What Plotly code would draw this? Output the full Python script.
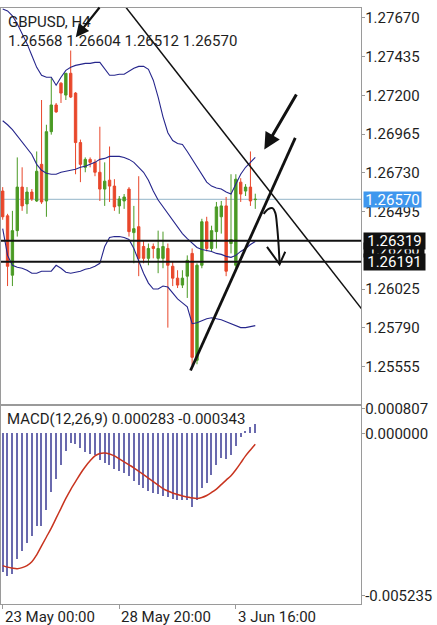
import plotly.graph_objects as go

# ---------------- data ----------------
bar_idx = list(range(53))

opens = [1.26620, 1.26470, 1.26110, 1.26380, 1.26644, 1.26542, 1.26614, 1.26560, 1.26782, 1.26560,
         1.26980, 1.27142, 1.27274, 1.27202, 1.27334, 1.27214, 1.26914, 1.26764, 1.26812, 1.26794,
         1.26734, 1.26632, 1.26686, 1.26650, 1.26530, 1.26560, 1.26632, 1.26368, 1.26404, 1.26284,
         1.26212, 1.26284, 1.26212, 1.26212, 1.26272, 1.26164, 1.26092, 1.26050, 1.26104, 1.26242,
         1.25594, 1.26170, 1.26434, 1.26272, 1.26374, 1.26464, 1.26530, 1.26302, 1.26170, 1.26674,
         1.26620, 1.26644, 1.26568]
highs = [1.26644, 1.26482, 1.26500, 1.26824, 1.26764, 1.26644, 1.26632, 1.26860, 1.27172, 1.27022,
         1.27304, 1.27154, 1.27280, 1.27334, 1.27472, 1.27220, 1.26932, 1.26824, 1.26824, 1.26812,
         1.27010, 1.26794, 1.26890, 1.26692, 1.26590, 1.26602, 1.26644, 1.26530, 1.26710, 1.26320,
         1.26302, 1.26302, 1.26380, 1.26374, 1.26302, 1.26194, 1.26140, 1.26140, 1.26230, 1.26272,
         1.26182, 1.26452, 1.26464, 1.26410, 1.26554, 1.26560, 1.26584, 1.26722, 1.26722, 1.26698,
         1.26662, 1.26860, 1.26604]
lows = [1.26446, 1.26044, 1.26044, 1.26344, 1.26500, 1.26482, 1.26560, 1.26554, 1.26542, 1.26464,
        1.26962, 1.27094, 1.27154, 1.27172, 1.27184, 1.26722, 1.26674, 1.26734, 1.26764, 1.26710,
        1.26560, 1.26530, 1.26554, 1.26500, 1.26482, 1.26512, 1.26344, 1.26182, 1.26104, 1.26182,
        1.26170, 1.26212, 1.26122, 1.26152, 1.25792, 1.26044, 1.26032, 1.26032, 1.25972, 1.25564,
        1.25570, 1.26152, 1.26254, 1.26254, 1.26272, 1.26362, 1.26104, 1.26242, 1.26152, 1.26554,
        1.26590, 1.26530, 1.26512]
closes = [1.26464, 1.26164, 1.26380, 1.26644, 1.26530, 1.26614, 1.26572, 1.26740, 1.26554, 1.26980,
          1.27142, 1.27100, 1.27214, 1.27334, 1.27190, 1.26914, 1.26782, 1.26812, 1.26794, 1.26734,
          1.26632, 1.26680, 1.26650, 1.26524, 1.26572, 1.26584, 1.26374, 1.26392, 1.26212, 1.26212,
          1.26272, 1.26272, 1.26272, 1.26284, 1.26170, 1.26092, 1.26050, 1.26092, 1.26200, 1.25612,
          1.26170, 1.26434, 1.26272, 1.26380, 1.26524, 1.26530, 1.26134, 1.26326, 1.26692, 1.26602,
          1.26644, 1.26560, 1.26570]

bb_upper = [1.27724, 1.27712, 1.27682, 1.27634, 1.27574, 1.27514, 1.27442, 1.27370, 1.27322, 1.27310,
            1.27310, 1.27262, 1.27310, 1.27352, 1.27370, 1.27382, 1.27388, 1.27394, 1.27394, 1.27400,
            1.27400, 1.27358, 1.27322, 1.27322, 1.27328, 1.27328, 1.27346, 1.27364, 1.27376, 1.27376,
            1.27358, 1.27292, 1.27190, 1.27070, 1.26974, 1.26926, 1.26908, 1.26902, 1.26860, 1.26812,
            1.26764, 1.26722, 1.26674, 1.26650, 1.26638, 1.26632, 1.26614, 1.26602, 1.26662, 1.26722,
            1.26764, 1.26794, 1.26824]
bb_middle = [1.27046, 1.27022, 1.26992, 1.26956, 1.26920, 1.26884, 1.26842, 1.26782, 1.26746, 1.26728,
             1.26722, 1.26722, 1.26734, 1.26740, 1.26746, 1.26752, 1.26764, 1.26770, 1.26782, 1.26794,
             1.26812, 1.26818, 1.26830, 1.26830, 1.26830, 1.26824, 1.26812, 1.26794, 1.26764, 1.26734,
             1.26686, 1.26620, 1.26566, 1.26524, 1.26482, 1.26440, 1.26404, 1.26362, 1.26332, 1.26302,
             1.26278, 1.26266, 1.26260, 1.26254, 1.26242, 1.26236, 1.26224, 1.26218, 1.26230, 1.26254,
             1.26272, 1.26296, 1.26314]
bb_lower = [1.26392, 1.26230, 1.26170, 1.26158, 1.26152, 1.26140, 1.26122, 1.26122, 1.26134, 1.26134,
            1.26134, 1.26170, 1.26152, 1.26128, 1.26122, 1.26128, 1.26134, 1.26146, 1.26152, 1.26164,
            1.26182, 1.26284, 1.26338, 1.26344, 1.26344, 1.26338, 1.26326, 1.26272, 1.26194, 1.26122,
            1.26062, 1.26026, 1.26026, 1.26044, 1.26038, 1.26002, 1.25966, 1.25942, 1.25918, 1.25816,
            1.25822, 1.25834, 1.25846, 1.25852, 1.25846, 1.25840, 1.25828, 1.25816, 1.25804, 1.25792,
            1.25792, 1.25798, 1.25804]

macd_hist = [-0.004494, -0.004603, -0.004549, -0.004048, -0.003805, -0.003537, -0.003326, -0.003007, -0.003007, -0.002474,
             -0.001890, -0.001494, -0.001037, -0.000559, -0.000326, -0.000345, -0.000485, -0.000613, -0.000664, -0.000696,
             -0.000855, -0.000964, -0.001037, -0.001143, -0.001219, -0.001283, -0.001389, -0.001548, -0.001676, -0.001772,
             -0.001867, -0.001931, -0.001979, -0.002027, -0.002075, -0.002123, -0.002171, -0.002155, -0.002155, -0.002394,
             -0.002155, -0.001772, -0.001612, -0.001357, -0.001037, -0.000814, -0.000830, -0.000718, -0.000399, -0.000112,
             0.000080, 0.000192, 0.000283]
macd_signal = [-0.004261, -0.004309, -0.004341, -0.004357, -0.004325, -0.004261, -0.004134, -0.003910, -0.003623, -0.003336,
               -0.003048, -0.002729, -0.002410, -0.002091, -0.001803, -0.001548, -0.001293, -0.001069, -0.000878, -0.000718,
               -0.000638, -0.000622, -0.000654, -0.000718, -0.000814, -0.000910, -0.001005, -0.001101, -0.001213, -0.001325,
               -0.001436, -0.001548, -0.001660, -0.001772, -0.001851, -0.001915, -0.001963, -0.002011, -0.002043, -0.002075,
               -0.002091, -0.002059, -0.001995, -0.001899, -0.001788, -0.001644, -0.001500, -0.001357, -0.001165, -0.000942,
               -0.000718, -0.000527, -0.000343]

price_ticks = [1.27670, 1.27435, 1.27200, 1.26965, 1.26730, 1.26495, 1.26025, 1.25790, 1.25555]
macd_ticks = [0.000807, 0.0, -0.005235]
macd_tick_text = ["0.000807", "0.000000", "-0.005235"]
date_idx = [0, 24, 48]
date_labels = ["23 May 00:00", "28 May 20:00", "3 Jun 16:00"]

current_price = 1.26570
level_lines = [1.26319, 1.26191]
hidden_level = 1.26260

# hand-drawn objects (bar index, price)
desc_line_x = [24.3, 74.6]
desc_line_y = [1.27774, 1.25879]
up_line_x = [38.67, 60.23]
up_line_y = [1.25532, 1.26942]
arrow_r_head = (53.86, 1.26872)
arrow_r_tail = (60.64, 1.27214)
arrow_l_head = (15.05, 1.27552)
arrow_l_tail = (20.18, 1.27742)
curve_x = [53.72, 54.74, 55.56, 56.12, 56.47, 56.80, 57.00]
curve_y = [1.26482, 1.26512, 1.26516, 1.26488, 1.26412, 1.26292, 1.26182]
curve_head_x = [54.41, 57.00, 58.17]
curve_head_y = [1.26282, 1.26176, 1.26252]

# ---------------- style ----------------
W, H = 437, 625
GREEN = "#4a9a24"
RED = "#e8472b"
BAND = "#26268c"
HIST = "#6a6aae"
SIG = "#c8341f"
AXIS = "#9a9a9a"
TXT = "#1e1e1e"
FONT = "Roboto"

x_right = 361 / W
main_dom = [1 - 404 / H, 1 - 2 / H]
macd_dom = [1 - 605 / H, 1 - 404 / H]
x_range = [-0.35, 73.8]

fig = go.Figure()

fig.add_trace(go.Candlestick(
    x=bar_idx, open=opens, high=highs, low=lows, close=closes,
    increasing=dict(line=dict(color=GREEN, width=1), fillcolor=GREEN),
    decreasing=dict(line=dict(color=RED, width=1), fillcolor=RED),
    whiskerwidth=0, xaxis="x", yaxis="y", hoverinfo="skip"))

for band in (bb_upper, bb_middle, bb_lower):
    fig.add_trace(go.Scatter(x=bar_idx, y=band, mode="lines",
                             line=dict(color=BAND, width=1.1),
                             xaxis="x", yaxis="y", hoverinfo="skip"))

fig.add_trace(go.Scatter(x=desc_line_x, y=desc_line_y, mode="lines",
                         line=dict(color="#111111", width=1.5), xaxis="x", yaxis="y"))
fig.add_trace(go.Scatter(x=up_line_x, y=up_line_y, mode="lines",
                         line=dict(color="#111111", width=2.8), xaxis="x", yaxis="y"))
fig.add_trace(go.Scatter(x=curve_x, y=curve_y, mode="lines",
                         line=dict(color="#111111", width=2, shape="spline"), xaxis="x", yaxis="y"))
fig.add_trace(go.Scatter(x=curve_head_x, y=curve_head_y, mode="lines",
                         line=dict(color="#111111", width=2), xaxis="x", yaxis="y"))

# MACD
fig.add_trace(go.Bar(x=bar_idx, y=macd_hist, width=0.28, marker=dict(color=HIST, line=dict(width=0)),
                     xaxis="x2", yaxis="y2", hoverinfo="skip"))
fig.add_trace(go.Scatter(x=bar_idx, y=macd_signal, mode="lines",
                         line=dict(color=SIG, width=1.5, shape="spline"),
                         xaxis="x2", yaxis="y2", hoverinfo="skip"))

shapes = [dict(type="line", xref="x domain", x0=0, x1=1, yref="y", y0=current_price, y1=current_price,
               line=dict(color="#93b4c8", width=1), layer="below")]
for lv in level_lines:
    shapes.append(dict(type="line", xref="x domain", x0=0, x1=1, yref="y", y0=lv, y1=lv,
                       line=dict(color="#111111", width=2)))

ann = []
# price boxes on the axis
ann.append(dict(x=363 / W, xref="paper", xanchor="left", y=hidden_level, yref="y", yanchor="middle",
                text="1.26260", showarrow=False, bgcolor="#111111", borderpad=0, width=60, height=14,
                font=dict(family=FONT, size=14, color="white")))
ann.append(dict(x=363 / W, xref="paper", xanchor="left", y=current_price, yref="y", yanchor="middle",
                text=f"{current_price:.5f}", showarrow=False, bgcolor="#3f97ee", borderpad=0,
                width=57, height=15, font=dict(family=FONT, size=15, color="white")))
for lv in level_lines:
    ann.append(dict(x=363 / W, xref="paper", xanchor="left", y=lv, yref="y", yanchor="middle",
                    text=f"{lv:.5f}", showarrow=False, bgcolor="#111111", borderpad=0,
                    width=61, height=16, font=dict(family=FONT, size=15, color="white")))

# headers
ann.append(dict(x=5 / W, xref="paper", xanchor="left", y=1 - 16 / H, yref="paper", yanchor="middle",
                text="GBPUSD, H4", showarrow=False, font=dict(family=FONT, size=15, color=TXT)))
ann.append(dict(x=5 / W, xref="paper", xanchor="left", y=1 - 35 / H, yref="paper", yanchor="middle",
                text=f"{opens[-1]:.5f} {highs[-1]:.5f} {lows[-1]:.5f} {closes[-1]:.5f}",
                showarrow=False, font=dict(family=FONT, size=15, color=TXT)))
ann.append(dict(x=4 / W, xref="paper", xanchor="left", y=1 - 418 / H, yref="paper", yanchor="middle",
                text=f"MACD(12,26,9) {macd_hist[-1]:.6f} {macd_signal[-1]:.6f}",
                showarrow=False, font=dict(family=FONT, size=15, color=TXT)))

# date labels (left aligned at tick)
for xi, lab in zip(date_idx, date_labels):
    ann.append(dict(x=xi, xref="x2", xanchor="left", y=1 - 618 / H, yref="paper", yanchor="middle",
                    text=lab, showarrow=False, font=dict(family=FONT, size=15, color=TXT)))

# arrows
ann.append(dict(x=arrow_r_head[0], y=arrow_r_head[1], xref="x", yref="y",
                ax=arrow_r_tail[0], ay=arrow_r_tail[1], axref="x", ayref="y",
                text="", showarrow=True, arrowhead=2, arrowsize=1.1, arrowwidth=3, arrowcolor="#111111"))
ann.append(dict(x=arrow_l_head[0], y=arrow_l_head[1], xref="x", yref="y",
                ax=arrow_l_tail[0], ay=arrow_l_tail[1], axref="x", ayref="y",
                text="", showarrow=True, arrowhead=2, arrowsize=1.2, arrowwidth=2.2, arrowcolor="#111111"))

axis_common = dict(showgrid=False, zeroline=False, showline=True, mirror=True,
                   linecolor=AXIS, linewidth=1, fixedrange=True)

fig.update_layout(
    width=W, height=H, margin=dict(l=0, r=0, t=0, b=0),
    paper_bgcolor="white", plot_bgcolor="white", showlegend=False,
    font=dict(family=FONT, size=15, color=TXT),
    bargap=0,
    xaxis=dict(domain=[0, x_right], range=x_range, anchor="y", showticklabels=False, ticks="",
               rangeslider=dict(visible=False), **axis_common),
    yaxis=dict(domain=main_dom, range=[1.25320, 1.27730], anchor="x", side="right",
               tickvals=price_ticks, ticktext=[f"{v:.5f}" for v in price_ticks],
               ticks="outside", ticklen=3, tickcolor=AXIS, ticklabelstandoff=-3,
               tickfont=dict(family=FONT, size=15, color=TXT), **axis_common),
    xaxis2=dict(domain=[0, x_right], range=x_range, anchor="y2", showticklabels=False,
                tickvals=date_idx, ticks="outside", ticklen=4, tickcolor=AXIS, **axis_common),
    yaxis2=dict(domain=macd_dom, range=[-0.005506, 0.000910], anchor="x2", side="right",
                tickvals=macd_ticks, ticktext=macd_tick_text,
                ticks="outside", ticklen=3, tickcolor=AXIS, ticklabelstandoff=-3,
                tickfont=dict(family=FONT, size=15, color=TXT), **axis_common),
    shapes=shapes, annotations=ann,
)

fig.write_html("out.html")
